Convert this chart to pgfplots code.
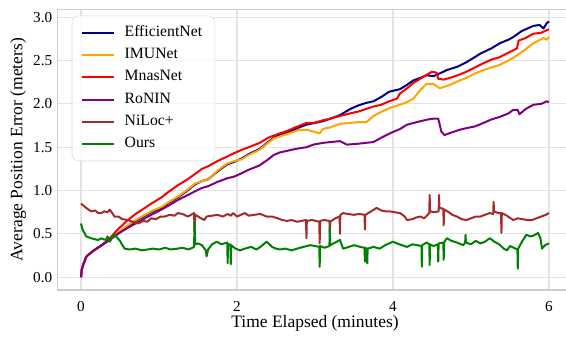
\documentclass[border=0pt]{standalone}
\usepackage{fontspec}
\setmainfont{Liberation Serif}
\usepackage{pgfplots}
\pgfplotsset{compat=1.18}
\definecolor{cEff}{HTML}{000080}
\definecolor{cIMU}{HTML}{FFA500}
\definecolor{cMnas}{HTML}{FF0000}
\definecolor{cRonin}{HTML}{800080}
\definecolor{cNiloc}{HTML}{A52A2A}
\definecolor{cOurs}{HTML}{008000}
\begin{document}
\begin{tikzpicture}
\begin{axis}[
  scale only axis, width=386.1pt, height=210.5pt,
  xmin=-0.3, xmax=6.3, ymin=-0.148, ymax=3.09,
  xtick={0,2,4,6}, ytick={0,0.5,1.0,1.5,2.0,2.5,3.0},
  /pgf/number format/assume math mode=true,
  yticklabel style={/pgf/number format/fixed, /pgf/number format/fixed zerofill, /pgf/number format/precision=1},
  ticklabel style={font=\fontsize{11.4}{13}\selectfont},
  xticklabel style={yshift=-4.9pt},
  yticklabel style={xshift=-0.5pt},
  major tick length=0pt,
  grid=major,
  major grid style={gray!22, line width=0.8pt},
  axis line style={gray!40, line width=1pt},
  xlabel={Time Elapsed (minutes)},
  ylabel={Average Position Error (meters)},
  label style={font=\fontsize{13.1}{15}\selectfont},
  xlabel style={at={(axis description cs:0.5,0)}, anchor=north, inner sep=0pt, yshift=-19pt},
  ylabel style={at={(axis description cs:0,0.5)}, anchor=center, inner sep=0pt, rotate=0, yshift=29.5pt},
  legend style={at={(0,1)}, anchor=north west, xshift=10.6pt, yshift=-4.6pt,
    draw=gray!30, fill=white, fill opacity=0.8, text opacity=1, rounded corners=5pt,
    font=\fontsize{11.8}{14}\selectfont, inner xsep=7pt, inner ysep=4.8pt, row sep=0.9pt,
    column sep=4.5pt,
    nodes={inner sep=2.5pt, text height=8.2pt, text depth=2.6pt, anchor=west}},
  legend cell align=left,
  legend image post style={xscale=1.406},
  every axis plot/.append style={line width=1.5pt, line join=round},
]
\addplot[cEff] coordinates {
(0,0) (0.01,0.09) (0.03,0.15) (0.07,0.24) (0.15,0.30) (0.25,0.36) (0.35,0.42) (0.47,0.50) (0.6,0.59) (0.7,0.65) (0.82,0.71) (0.92,0.76) (1.03,0.80) (1.13,0.86) (1.24,0.92) (1.35,0.99) (1.46,1.07) (1.55,1.11) (1.63,1.13) (1.75,1.22) (1.87,1.30) (1.96,1.33) (2.06,1.37) (2.15,1.42) (2.29,1.48) (2.4,1.56) (2.47,1.61) (2.6,1.66) (2.7,1.69) (2.8,1.73) (2.89,1.76) (3.0,1.78) (3.1,1.80) (3.2,1.83) (3.32,1.87) (3.45,1.94) (3.55,1.98) (3.65,2.01) (3.75,2.03) (3.85,2.08) (3.95,2.14) (4.09,2.17) (4.18,2.22) (4.26,2.27) (4.35,2.30) (4.43,2.33) (4.52,2.32) (4.62,2.36) (4.69,2.39) (4.83,2.43) (4.94,2.48) (5.05,2.54) (5.12,2.58) (5.26,2.64) (5.37,2.70) (5.48,2.74) (5.54,2.77) (5.65,2.84) (5.8,2.90) (5.88,2.91) (5.93,2.87) (5.97,2.93) (6.0,2.95)
};
\addlegendentry{EfficientNet}
\addplot[cIMU] coordinates {
(0,0) (0.01,0.09) (0.03,0.15) (0.07,0.24) (0.15,0.30) (0.25,0.36) (0.35,0.42) (0.47,0.51) (0.6,0.60) (0.7,0.66) (0.82,0.72) (0.92,0.77) (1.03,0.81) (1.13,0.87) (1.24,0.93) (1.35,1.00) (1.46,1.08) (1.55,1.11) (1.63,1.13) (1.75,1.23) (1.87,1.31) (1.96,1.34) (2.06,1.36) (2.15,1.41) (2.29,1.47) (2.4,1.55) (2.47,1.60) (2.6,1.64) (2.7,1.67) (2.8,1.70) (2.9,1.70) (2.98,1.68) (3.06,1.66) (3.1,1.71) (3.2,1.73) (3.32,1.77) (3.45,1.78) (3.55,1.79) (3.66,1.79) (3.75,1.86) (3.83,1.90) (3.95,1.95) (4.09,1.99) (4.18,2.02) (4.26,2.06) (4.35,2.16) (4.43,2.23) (4.52,2.23) (4.6,2.18) (4.73,2.22) (4.83,2.26) (4.94,2.30) (5.05,2.35) (5.16,2.39) (5.26,2.42) (5.37,2.45) (5.48,2.50) (5.59,2.56) (5.7,2.63) (5.8,2.70) (5.93,2.76) (5.97,2.74) (6.0,2.77)
};
\addlegendentry{IMUNet}
\addplot[cMnas] coordinates {
(0,0) (0.01,0.09) (0.03,0.15) (0.07,0.24) (0.15,0.30) (0.25,0.36) (0.35,0.43) (0.47,0.55) (0.6,0.66) (0.7,0.73) (0.82,0.80) (0.92,0.86) (1.03,0.92) (1.13,0.99) (1.24,1.06) (1.35,1.12) (1.46,1.19) (1.55,1.25) (1.63,1.28) (1.75,1.34) (1.87,1.39) (1.96,1.43) (2.06,1.47) (2.15,1.50) (2.29,1.55) (2.4,1.61) (2.55,1.66) (2.65,1.69) (2.75,1.73) (2.89,1.78) (2.98,1.78) (3.1,1.81) (3.2,1.83) (3.32,1.86) (3.45,1.89) (3.55,1.91) (3.65,1.94) (3.75,1.97) (3.85,1.99) (3.95,2.03) (4.05,2.06) (4.09,2.12) (4.18,2.18) (4.26,2.24) (4.35,2.29) (4.42,2.33) (4.5,2.37) (4.56,2.36) (4.58,2.29) (4.65,2.28) (4.73,2.30) (4.83,2.33) (4.94,2.37) (5.05,2.42) (5.16,2.47) (5.26,2.51) (5.37,2.54) (5.48,2.59) (5.59,2.64) (5.61,2.73) (5.7,2.76) (5.8,2.81) (5.9,2.82) (5.97,2.85) (6.0,2.86)
};
\addlegendentry{MnasNet}
\addplot[cRonin] coordinates {
(0,0) (0.01,0.09) (0.03,0.15) (0.07,0.24) (0.15,0.30) (0.25,0.36) (0.35,0.42) (0.47,0.50) (0.6,0.57) (0.7,0.62) (0.82,0.68) (0.92,0.73) (1.03,0.78) (1.13,0.83) (1.24,0.89) (1.35,0.94) (1.46,0.99) (1.55,1.03) (1.63,1.05) (1.75,1.10) (1.87,1.14) (1.96,1.16) (2.06,1.20) (2.15,1.24) (2.29,1.29) (2.4,1.36) (2.47,1.41) (2.55,1.44) (2.65,1.46) (2.75,1.48) (2.89,1.50) (2.98,1.53) (3.1,1.55) (3.2,1.56) (3.32,1.57) (3.41,1.53) (3.55,1.54) (3.65,1.55) (3.75,1.56) (3.85,1.61) (3.96,1.66) (4.09,1.71) (4.18,1.76) (4.35,1.80) (4.45,1.82) (4.52,1.83) (4.58,1.83) (4.62,1.68) (4.66,1.64) (4.75,1.67) (4.85,1.70) (4.94,1.72) (5.05,1.74) (5.16,1.78) (5.26,1.82) (5.37,1.85) (5.48,1.89) (5.54,1.93) (5.6,1.93) (5.62,1.88) (5.7,1.94) (5.8,1.99) (5.9,2.00) (5.97,2.03) (6.0,2.02)
};
\addlegendentry{RoNIN}
\addplot[cNiloc] coordinates {
(0,0.85) (0.04,0.82) (0.08,0.79) (0.13,0.76) (0.18,0.77) (0.22,0.74) (0.26,0.74) (0.30,0.76) (0.34,0.75) (0.37,0.78) (0.40,0.74) (0.43,0.70) (0.48,0.70) (0.53,0.67) (0.60,0.66) (0.66,0.64) (0.73,0.62) (0.80,0.65) (0.85,0.64) (0.90,0.68) (0.96,0.67) (1.02,0.70) (1.07,0.70) (1.14,0.72) (1.20,0.71) (1.24,0.74) (1.30,0.73) (1.37,0.70) (1.45,0.74) (1.455,0.53) (1.465,0.72) (1.52,0.69) (1.58,0.66) (1.61,0.70) (1.68,0.71) (1.75,0.72) (1.82,0.70) (1.88,0.73) (1.92,0.71) (1.95,0.74) (2.00,0.70) (2.05,0.72) (2.10,0.74) (2.15,0.71) (2.22,0.72) (2.30,0.73) (2.38,0.70) (2.45,0.70) (2.52,0.68) (2.58,0.66) (2.64,0.65) (2.70,0.66) (2.77,0.64) (2.885,0.66) (2.89,0.45) (2.895,0.65) (2.96,0.66) (3.055,0.64) (3.06,0.39) (3.065,0.65) (3.12,0.66) (3.185,0.65) (3.19,0.51) (3.195,0.64) (3.26,0.68) (3.315,0.70) (3.32,0.50) (3.325,0.72) (3.36,0.74) (3.42,0.73) (3.50,0.72) (3.57,0.73) (3.635,0.72) (3.64,0.55) (3.645,0.72) (3.72,0.76) (3.79,0.80) (3.85,0.77) (3.90,0.76) (3.96,0.76) (4.02,0.75) (4.09,0.74) (4.15,0.70) (4.18,0.66) (4.25,0.67) (4.30,0.69) (4.35,0.70) (4.40,0.68) (4.465,0.74) (4.47,0.95) (4.475,0.76) (4.53,0.75) (4.585,0.76) (4.59,0.95) (4.595,0.80) (4.645,0.79) (4.65,0.60) (4.655,0.78) (4.70,0.76) (4.76,0.72) (4.82,0.70) (4.88,0.67) (4.94,0.66) (5.00,0.68) (5.06,0.70) (5.12,0.70) (5.18,0.72) (5.24,0.74) (5.285,0.73) (5.29,0.87) (5.295,0.76) (5.35,0.74) (5.385,0.74) (5.39,0.51) (5.395,0.74) (5.46,0.71) (5.54,0.66) (5.60,0.68) (5.66,0.67) (5.72,0.66) (5.78,0.66) (5.84,0.68) (5.90,0.70) (5.96,0.72) (6.0,0.74)
};
\addlegendentry{NiLoc+}
\addplot[cOurs] coordinates {
(0,0.62) (0.02,0.55) (0.05,0.50) (0.07,0.47) (0.10,0.46) (0.13,0.45) (0.17,0.44) (0.22,0.43) (0.26,0.45) (0.28,0.44) (0.32,0.43) (0.34,0.47) (0.37,0.41) (0.40,0.46) (0.43,0.49) (0.46,0.46) (0.50,0.42) (0.53,0.37) (0.56,0.33) (0.62,0.32) (0.70,0.33) (0.78,0.31) (0.85,0.32) (0.92,0.33) (1.00,0.32) (1.08,0.34) (1.15,0.32) (1.24,0.33) (1.30,0.34) (1.38,0.32) (1.45,0.35) (1.455,0.64) (1.465,0.38) (1.50,0.39) (1.55,0.37) (1.60,0.31) (1.61,0.24) (1.63,0.32) (1.68,0.38) (1.74,0.41) (1.80,0.38) (1.875,0.40) (1.88,0.16) (1.885,0.38) (1.915,0.38) (1.92,0.15) (1.925,0.37) (1.98,0.33) (2.04,0.31) (2.10,0.33) (2.18,0.35) (2.25,0.32) (2.30,0.35) (2.38,0.41) (2.45,0.35) (2.50,0.33) (2.55,0.32) (2.62,0.33) (2.70,0.31) (2.77,0.33) (2.85,0.35) (2.94,0.37) (3.055,0.35) (3.06,0.12) (3.065,0.36) (3.12,0.34) (3.185,0.36) (3.19,0.58) (3.195,0.37) (3.26,0.40) (3.32,0.43) (3.36,0.33) (3.40,0.34) (3.50,0.37) (3.58,0.35) (3.635,0.34) (3.64,0.18) (3.645,0.34) (3.665,0.33) (3.67,0.16) (3.675,0.33) (3.75,0.35) (3.83,0.33) (3.90,0.37) (4.00,0.41) (4.08,0.38) (4.18,0.35) (4.25,0.38) (4.365,0.36) (4.37,0.12) (4.375,0.37) (4.43,0.40) (4.465,0.38) (4.47,0.14) (4.475,0.38) (4.52,0.36) (4.575,0.38) (4.58,0.18) (4.585,0.39) (4.645,0.40) (4.65,0.20) (4.655,0.40) (4.69,0.45) (4.75,0.42) (4.82,0.40) (4.90,0.37) (4.925,0.40) (4.93,0.49) (4.935,0.40) (5.00,0.38) (5.06,0.42) (5.12,0.39) (5.18,0.41) (5.24,0.45) (5.30,0.41) (5.36,0.38) (5.42,0.33) (5.46,0.31) (5.50,0.36) (5.595,0.32) (5.60,0.10) (5.605,0.33) (5.66,0.42) (5.71,0.49) (5.76,0.47) (5.80,0.48) (5.86,0.51) (5.89,0.45) (5.91,0.33) (5.95,0.37) (6.0,0.39)
};
\addlegendentry{Ours}
\end{axis}
\pgfresetboundingbox
\path[use as bounding box] ([xshift=-43.2pt,yshift=-35.2pt]current axis.south west) rectangle ([xshift=-4.8pt,yshift=7.05pt]current axis.north east);
\end{tikzpicture}
\end{document}
